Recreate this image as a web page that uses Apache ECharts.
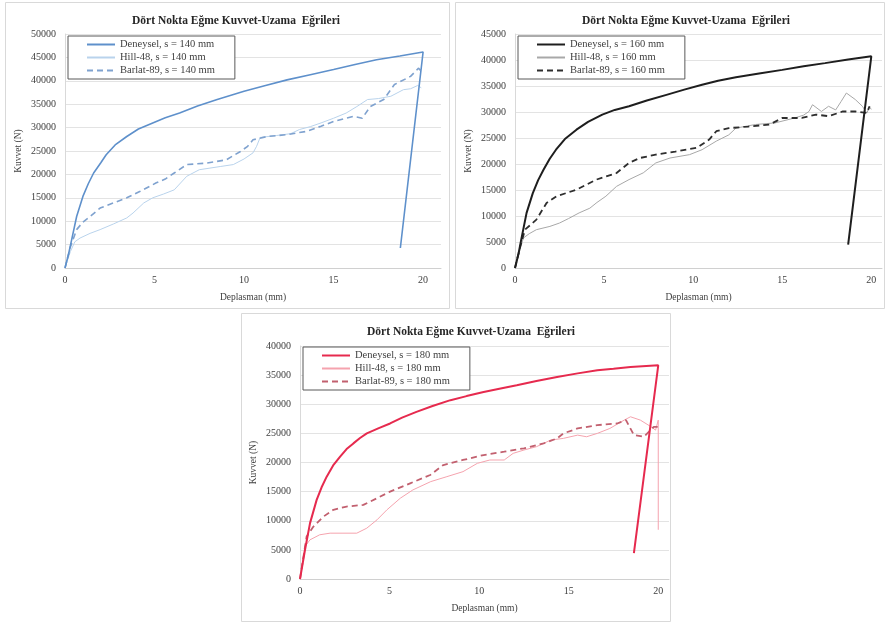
<!DOCTYPE html>
<html>
<head>
<meta charset="utf-8">
<script src="https://cdn.jsdelivr.net/npm/echarts@6/dist/echarts.min.js"></script>
<style>
html,body{margin:0;padding:0;background:#fff;}
#c{width:885px;height:623px;}
</style>
</head>
<body>
<div id="c"></div>
<script>
// ---- Data (x: Deplasman mm, y: Kuvvet N) ----
var titleText = 'Dört Nokta Eğme Kuvvet-Uzama  Eğrileri';
var xTicks = [0, 5, 10, 15, 20];

var exp140 = [[0,0],[0.2,3000],[0.37,6000],[0.65,11000],[1.0,15300],[1.3,18000],[1.6,20300],[2.0,22500],[2.3,24200],[2.8,26300],[3.45,28100],[4.1,29700],[4.9,31000],[5.6,32100],[6.4,33100],[7.4,34600],[8.5,36000],[10,37750],[11.2,39000],[12.4,40200],[13.7,41300],[15,42400],[16.2,43500],[17.4,44500],[18.7,45300],[20,46150],[18.73,4270]];
var hill140 = [[0,0],[0.3,3500],[0.55,5600],[0.84,6400],[1.4,7400],[1.96,8200],[2.7,9400],[3.45,10700],[3.8,11750],[4.4,13900],[4.9,15000],[5.5,15800],[6.1,16700],[6.8,19600],[7.5,21000],[8.7,21700],[9.4,22100],[10.0,23300],[10.5,24600],[10.7,26000],[10.9,27900],[11.8,28300],[12.6,28700],[13.1,29600],[13.7,30200],[14.3,31000],[15.0,32000],[15.7,33100],[16.3,34500],[16.9,36000],[17.5,36200],[18.2,36700],[18.9,38100],[19.3,38300],[19.7,39000],[19.9,38500]];
var barlat140 = [[0,0],[0.3,4500],[0.65,8200],[1.0,9800],[1.4,11000],[1.96,12800],[2.7,13900],[3.45,15000],[4.2,16400],[5.1,18200],[5.6,19000],[6.1,20300],[6.8,22100],[7.9,22400],[9.0,23100],[9.8,24900],[10.2,26000],[10.5,27400],[11.3,28100],[12.4,28500],[13.5,29200],[14.3,30300],[15.0,31300],[16.1,32400],[16.6,32000],[17.05,34500],[17.8,36000],[18.4,39200],[19.3,40950],[19.75,42700],[19.9,42000]];

var exp160 = [[0,0],[0.2,2800],[0.35,5450],[0.65,10600],[1.0,14400],[1.3,16900],[1.6,18900],[1.95,21000],[2.3,22750],[2.8,24800],[3.45,26600],[4.1,28100],[4.9,29500],[5.6,30400],[6.4,31100],[7.4,32200],[8.5,33300],[9.5,34300],[10.5,35250],[11.4,36000],[12.4,36700],[13.7,37400],[15,38100],[16.2,38800],[17.4,39400],[18.7,40100],[20,40700],[18.7,4490]];
var hill160 = [[0,0],[0.25,3200],[0.47,5770],[0.8,6600],[1.2,7370],[1.96,8000],[2.5,8650],[3.0,9500],[3.6,10600],[4.2,11500],[4.6,12600],[5.1,13800],[5.7,15700],[6.4,17000],[7.2,18300],[7.9,20200],[8.7,21150],[9.8,21800],[10.5,22750],[11.3,24400],[12.0,25600],[12.4,26900],[13.5,27600],[14.6,27900],[15.7,28850],[16.2,29400],[16.5,30100],[16.7,31400],[17.2,30100],[17.6,31100],[18.0,30400],[18.3,32000],[18.6,33650],[19.1,32400],[19.5,31100],[19.75,29800],[19.9,31000],[20.0,30500]];
var barlat160 = [[0,0],[0.3,4200],[0.56,7370],[1.2,9300],[1.77,12500],[2.33,13800],[3.45,15050],[4.57,17000],[5.7,18270],[6.4,20200],[7.0,21150],[7.9,21800],[9.0,22400],[10.2,23100],[10.9,24700],[11.3,26300],[12.0,26900],[13.1,27200],[14.3,27600],[15.0,28850],[16.1,28850],[16.9,29500],[17.6,29200],[18.4,30100],[19.1,30100],[19.75,29800],[19.9,31100]];

var exp180 = [[0,0],[0.28,5020],[0.56,9590],[0.93,13580],[1.2,15700],[1.49,17570],[1.85,19500],[2.24,21000],[2.6,22300],[2.98,23280],[3.35,24200],[3.73,25000],[4.4,25900],[5.03,26700],[5.7,27700],[6.5,28700],[7.4,29700],[8.4,30700],[9.3,31400],[10.25,32100],[11.2,32700],[12.1,33270],[13.2,34000],[14.35,34690],[15.5,35300],[16.6,35830],[17.5,36100],[18.45,36400],[20,36690],[18.64,4450]];
var hill180 = [[0,0],[0.28,5590],[0.56,6730],[1.1,7590],[1.68,7870],[2.4,7870],[3.17,7870],[3.73,8730],[4.3,10160],[4.85,11870],[5.6,13870],[6.3,15290],[7.3,16720],[8.2,17570],[9.1,18430],[9.9,19860],[10.6,20430],[11.4,20430],[11.9,21570],[12.5,22140],[13.2,22710],[14.0,23850],[14.7,24140],[15.5,24700],[16.0,24420],[16.6,25000],[17.3,25850],[18.1,27280],[18.45,27850],[19.0,27280],[19.6,26130],[19.85,25560],[20.0,27280],[20.0,8450]];
var barlat180 = [[0,0],[0.37,7300],[0.75,9000],[1.3,10700],[1.86,11870],[2.6,12440],[3.54,12720],[4.3,13870],[5.03,15000],[6.15,16430],[7.27,17860],[8.0,19570],[9.1,20430],[10.25,21280],[11.4,21850],[12.5,22430],[13.6,23280],[14.35,24140],[14.7,24990],[15.5,25850],[16.6,26420],[17.7,26700],[18.2,27280],[18.64,24710],[19.2,24420],[19.75,26130],[20.0,26130]];

var panels = [
  {names:['Deneysel, s = 140 mm','Hill-48, s = 140 mm','Barlat-89, s = 140 mm'], data:[exp140,hill140,barlat140], colors:['#5E90CB','#B9D3EC','#7FA2CF'], widths:[1.6,1,1.6], ymax:50000, xmax:21,
   grid:{left:65,top:34,width:376,height:234}, title:{left:231,top:10}, legend:{left:68,top:36}, box:[5,2,444,306]},
  {names:['Deneysel, s = 160 mm','Hill-48, s = 160 mm','Barlat-89, s = 160 mm'], data:[exp160,hill160,barlat160], colors:['#1e1e1e','#a8a8a8','#2e2e2e'], widths:[2,1,1.8], ymax:45000, xmax:20.6,
   grid:{left:515,top:34,width:369,height:234}, title:{left:681,top:10}, legend:{left:518,top:36}, box:[455,2,429,306]},
  {names:['Deneysel, s = 180 mm','Hill-48, s = 180 mm','Barlat-89, s = 180 mm'], data:[exp180,hill180,barlat180], colors:['#E62A4E','#F5A3AE','#C2606F'], widths:[2,1,1.8], ymax:40000, xmax:20.6,
   grid:{left:300,top:346,width:369,height:233}, title:{left:466,top:321}, legend:{left:303,top:347}, box:[241,313,429,308]}
];

var serif = '"Liberation Serif","DejaVu Serif",serif';
var option = {backgroundColor:'#fff', animation:false, title:[], legend:[], grid:[], xAxis:[], yAxis:[], series:[], graphic:[]};

panels.forEach(function(p, i){
  option.graphic.push({type:'rect', silent:true, shape:{x:p.box[0]+0.5,y:p.box[1]+0.5,width:p.box[2],height:p.box[3]}, style:{fill:'none',stroke:'#d9d9d9',lineWidth:1}, z:-1});
  option.title.push({text:titleText, left:p.title.left, top:p.title.top, textAlign:'center',
    textStyle:{fontFamily:serif,fontSize:11.5,fontWeight:'bold',color:'#262626'}});
  option.legend.push({data:p.names, orient:'vertical', left:p.legend.left, top:p.legend.top,
    itemWidth:28, itemHeight:10, itemGap:2, padding:[3,20,3,18], borderColor:'#595959', borderWidth:1,
    backgroundColor:'#fff', itemStyle:{opacity:0},
    textStyle:{fontFamily:serif,fontSize:10.5,color:'#404040'}});
  option.grid.push(p.grid);
  option.xAxis.push({type:'value', gridIndex:i, min:0, max:p.xmax, interval:5,
    name:'Deplasman (mm)', nameLocation:'middle', nameGap:24,
    nameTextStyle:{fontFamily:serif,fontSize:9.5,color:'#404040'},
    axisLine:{show:true,lineStyle:{color:'#d0d0d0'}}, axisTick:{show:false}, splitLine:{show:false},
    axisLabel:{fontFamily:serif,fontSize:10,color:'#404040',margin:7,
      formatter:function(v){return xTicks.indexOf(v)>=0 ? String(v) : '';}}});
  option.yAxis.push({type:'value', gridIndex:i, min:0, max:p.ymax, interval:5000,
    name:'Kuvvet (N)', nameLocation:'middle', nameGap:42,
    nameTextStyle:{fontFamily:serif,fontSize:9.5,color:'#404040'},
    axisLine:{show:true,lineStyle:{color:'#d9d9d9'}}, axisTick:{show:false},
    splitLine:{show:true,lineStyle:{color:'#e3e3e3',width:1}},
    axisLabel:{fontFamily:serif,fontSize:10,color:'#404040',margin:9,formatter:function(v){return String(v);}}});
  for (var k=0;k<3;k++){
    option.series.push({type:'line', name:p.names[k], xAxisIndex:i, yAxisIndex:i, data:p.data[k],
      symbol:'none', smooth:false, z: k===0?4:(k===2?3:2),
      lineStyle:{color:p.colors[k], width:p.widths[k], type: k===2?[6,4]:'solid'},
      itemStyle:{color:p.colors[k]}});
  }
});

var chart = echarts.init(document.getElementById('c'), null, {renderer:'canvas'});
chart.setOption(option);
</script>
</body>
</html>
